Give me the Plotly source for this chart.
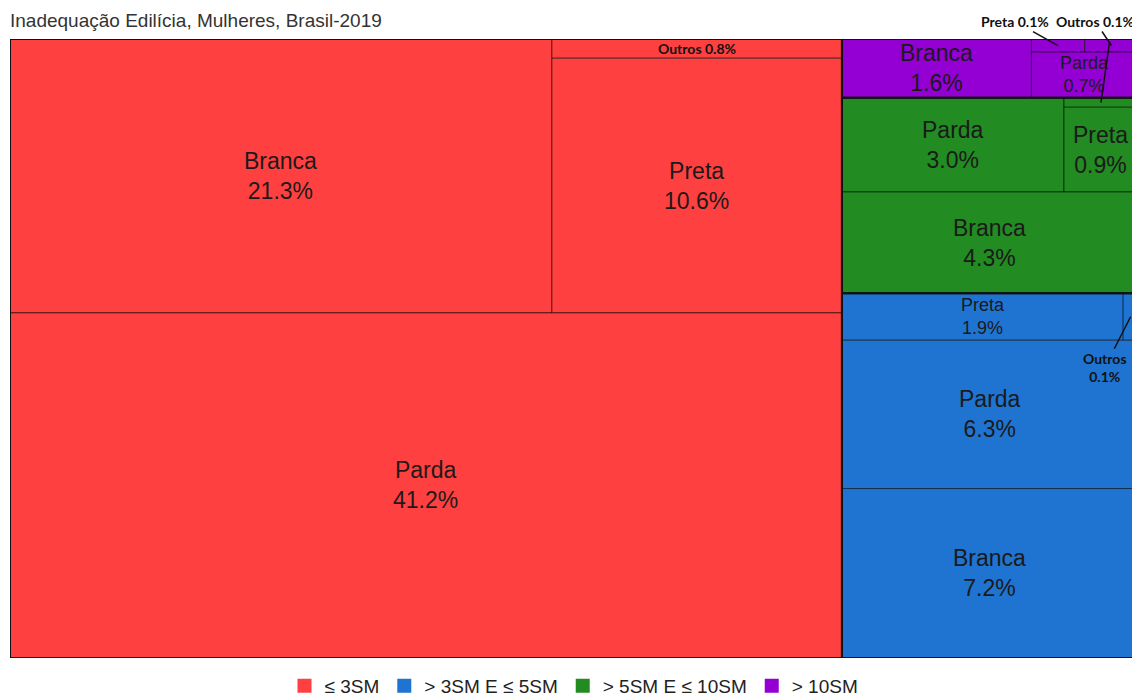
import plotly.graph_objects as go

title = "Inadequação Edilícia, Mulheres, Brasil-2019"
groups = ["≤ 3SM", "> 3SM E ≤ 5SM", "> 5SM E ≤ 10SM", "> 10SM"]
group_colors = ["#FF4040", "#1E74D0", "#228B22", "#9400D3"]

cats_ate3 = ["Branca", "Preta", "Outros", "Parda"]
vals_ate3 = [21.3, 10.6, 0.8, 41.2]
cats_3a5 = ["Preta", "Outros", "Parda", "Branca"]
vals_3a5 = [1.9, 0.1, 6.3, 7.2]
cats_5a10 = ["Parda", "Outros", "Preta", "Branca"]
vals_5a10 = [3.0, 0.1, 0.9, 4.3]
cats_mais10 = ["Branca", "Preta", "Outros", "Parda"]
vals_mais10 = [1.6, 0.1, 0.1, 0.7]

values = {}
for gi, (cats, vals) in enumerate([(cats_ate3, vals_ate3), (cats_3a5, vals_3a5),
                                    (cats_5a10, vals_5a10), (cats_mais10, vals_mais10)]):
    for c, v in zip(cats, vals):
        values[(gi, c)] = v


def H(*ch):
    return {"dir": "h", "children": list(ch)}


def V(*ch):
    return {"dir": "v", "children": list(ch)}


# slice-and-dice structure of the treemap (sizes come from the values)
tree = H(
    V(H((0, "Branca"), V((0, "Outros"), (0, "Preta"))), (0, "Parda")),
    V(
        H((3, "Branca"), V(H((3, "Preta"), (3, "Outros")), (3, "Parda"))),
        V(H((2, "Parda"), V((2, "Outros"), (2, "Preta"))), (2, "Branca")),
        V(H((1, "Preta"), (1, "Outros")), (1, "Parda"), (1, "Branca")),
    ),
)


def size(node):
    if isinstance(node, tuple):
        return values[node]
    return sum(size(c) for c in node["children"])


rects = {}


def place(node, x0, y0, x1, y1):
    if isinstance(node, tuple):
        rects[node] = (x0, y0, x1, y1)
        return
    tot = size(node)
    pos = x0 if node["dir"] == "h" else y0
    for c in node["children"]:
        frac = size(c) / tot
        if node["dir"] == "h":
            w = (x1 - x0) * frac
            place(c, pos, y0, pos + w, y1)
        else:
            w = (y1 - y0) * frac
            place(c, x0, pos, x1, pos + w)
        pos += w


place(tree, 0.0, 0.0, 1.0, 1.0)

fig = go.Figure()

# cells
for key, (x0, y0, x1, y1) in rects.items():
    g = key[0]
    fig.add_trace(go.Scatter(
        x=[x0, x1, x1, x0, x0], y=[y0, y0, y1, y1, y0], mode="lines",
        fill="toself", fillcolor=group_colors[g],
        line=dict(color="rgba(0,0,0,0.55)", width=1),
        hoverinfo="skip", showlegend=False))

# group outlines
for g in range(4):
    rs = [r for k, r in rects.items() if k[0] == g]
    gx0 = min(r[0] for r in rs); gy0 = min(r[1] for r in rs)
    gx1 = max(r[2] for r in rs); gy1 = max(r[3] for r in rs)
    fig.add_trace(go.Scatter(
        x=[gx0, gx1, gx1, gx0, gx0], y=[gy0, gy0, gy1, gy1, gy0], mode="lines",
        line=dict(color="#111111", width=2), hoverinfo="skip", showlegend=False))

# legend entries
for g in range(4):
    fig.add_trace(go.Scatter(
        x=[None], y=[None], mode="markers", name=groups[g],
        marker=dict(symbol="square", size=14, color=group_colors[g])))

ARIAL = "Liberation Sans, Arial, sans-serif"
BOLD = "Lato, Open Sans, sans-serif"
big = 23
label_sizes = {(3, "Parda"): 18, (1, "Preta"): 18}
inside_small = {(0, "Outros")}
callouts = {
    (3, "Preta"): ("<b>Preta 0.1%</b>", -43, -24),
    (3, "Outros"): ("<b>Outros 0.1%</b>", -16, -24),
    (2, "Outros"): (" ", 10, -71),
    (1, "Outros"): ("<b>Outros</b><br><b>0.1%</b>", -26, 51),
}

annotations = []
for key, (x0, y0, x1, y1) in rects.items():
    cx, cy = (x0 + x1) / 2, (y0 + y1) / 2
    v = values[key]
    if key in callouts:
        txt, ax, ay = callouts[key]
        annotations.append(dict(
            x=cx, y=cy, xref="x", yref="y", text=txt, showarrow=True,
            arrowhead=0, arrowwidth=1.5, arrowcolor="#111", ax=ax, ay=ay,
            standoff=0, font=dict(family=BOLD, size=14, color="#111")))
    elif key in inside_small:
        annotations.append(dict(
            x=cx, y=cy, xref="x", yref="y", showarrow=False,
            text=f"<b>{key[1]} {v:.1f}%</b>",
            font=dict(family=BOLD, size=14, color="#111")))
    else:
        annotations.append(dict(
            x=cx, y=cy, xref="x", yref="y", showarrow=False,
            text=f"{key[1]}<br>{v:.1f}%",
            font=dict(family=ARIAL, size=label_sizes.get(key, big),
                      color="#1a1a1a")))

# the page body has an 8px margin, so the figure is sized to the visible window
W, Hh = 1132, 689
fig.update_layout(
    width=W, height=Hh,
    margin=dict(l=2, r=2, t=31, b=39, autoexpand=False),
    paper_bgcolor="white", plot_bgcolor="white",
    title=dict(text=title, x=2 / W, xanchor="left", xref="container",
               y=1 - 12 / Hh, yanchor="middle",
               font=dict(family=ARIAL, size=19, color="#333")),
    xaxis=dict(range=[0, 1], visible=False, fixedrange=True),
    yaxis=dict(range=[1, 0], visible=False, fixedrange=True),
    legend=dict(orientation="h", x=0.5, xanchor="center", y=-0.045, yanchor="middle",
                font=dict(family=ARIAL, size=19, color="#222"),
                itemwidth=30),
    annotations=annotations,
)

fig.write_html("out.html")
